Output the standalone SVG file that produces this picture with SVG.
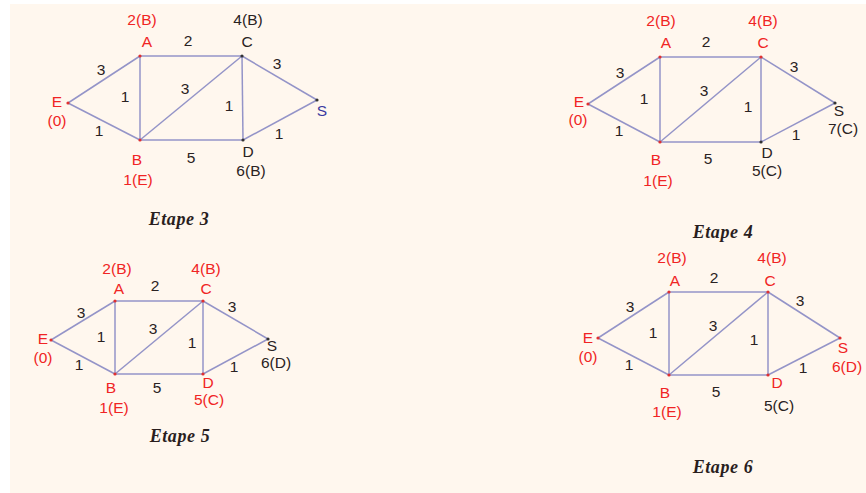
<svg xmlns="http://www.w3.org/2000/svg" width="866" height="493" viewBox="0 0 866 493">
<style>
text{font-family:"Liberation Sans",Arial,sans-serif;font-size:15.5px;text-anchor:middle}
.r{fill:#f02424}.k{fill:#2a2222}.b{fill:#3a3aa0}
.w{fill:#2a2222}
.e line{stroke:#9494c8;stroke-width:1.5}
.dr{fill:#e03030}.dk{fill:#333}
.t{font-family:"Liberation Serif","Times New Roman",serif;font-style:italic;font-weight:bold;font-size:18px;fill:#2a1e1e;letter-spacing:0.6px}
</style>
<rect x="0" y="0" width="866" height="493" fill="#ffffff"/>
<rect x="10" y="4" width="856" height="489" fill="#fff7ee"/>

<!-- Panel 1: Etape 3 -->
<g id="p1">
<g class="e" id="p1-edges">
<line x1="68" y1="103" x2="140" y2="56"/>
<line x1="68" y1="103" x2="140" y2="140"/>
<line x1="140" y1="56" x2="242" y2="56"/>
<line x1="140" y1="56" x2="140" y2="140"/>
<line x1="140" y1="140" x2="242" y2="56"/>
<line x1="242" y1="56" x2="243" y2="140"/>
<line x1="140" y1="140" x2="243" y2="140"/>
<line x1="242" y1="56" x2="317" y2="100"/>
<line x1="243" y1="140" x2="317" y2="100"/>
</g>
<g id="p1-wts" class="w">
<text x="188" y="46">2</text><text x="101" y="75">3</text><text x="125" y="102">1</text>
<text x="185" y="94">3</text><text x="229" y="111">1</text><text x="277" y="69">3</text>
<text x="99" y="136">1</text><text x="191" y="163">5</text><text x="279" y="139">1</text>
</g>
<g id="p1-E"><circle class="dr" cx="68" cy="103" r="1.6"/><text class="r" x="57" y="107">E</text><text class="r" x="57" y="126">(0)</text></g>
<g id="p1-A"><circle class="dr" cx="140" cy="56" r="1.6"/><text class="r" x="147" y="47">A</text><text class="r" x="142" y="25">2(B)</text></g>
<g id="p1-C"><circle class="dk" cx="242" cy="56" r="1.6"/><text class="k" x="247" y="47">C</text><text class="k" x="248" y="25">4(B)</text></g>
<g id="p1-B"><circle class="dr" cx="140" cy="140" r="1.6"/><text class="r" x="137" y="165">B</text><text class="r" x="138" y="185">1(E)</text></g>
<g id="p1-D"><circle class="dk" cx="243" cy="140" r="1.6"/><text class="k" x="248" y="157">D</text><text class="k" x="251" y="176">6(B)</text></g>
<g id="p1-S"><circle class="dk" cx="317" cy="100" r="1.6"/><text class="b" x="322" y="116">S</text></g>
<text class="t" x="179" y="225">Etape 3</text>
</g>

<!-- Panel 2: Etape 4 -->
<g id="p2">
<g class="e" id="p2-edges">
<line x1="588" y1="104" x2="660" y2="57"/>
<line x1="588" y1="104" x2="660" y2="142"/>
<line x1="660" y1="57" x2="761" y2="57"/>
<line x1="660" y1="57" x2="660" y2="142"/>
<line x1="660" y1="142" x2="761" y2="57"/>
<line x1="761" y1="57" x2="761" y2="142"/>
<line x1="660" y1="142" x2="761" y2="142"/>
<line x1="761" y1="57" x2="835" y2="103"/>
<line x1="761" y1="142" x2="835" y2="103"/>
</g>
<g id="p2-wts" class="w">
<text x="706" y="47">2</text><text x="620" y="78">3</text><text x="644" y="104">1</text>
<text x="704" y="96">3</text><text x="748" y="112">1</text><text x="794" y="72">3</text>
<text x="619" y="136">1</text><text x="708" y="164">5</text><text x="796" y="140">1</text>
</g>
<g id="p2-E"><circle class="dr" cx="588" cy="104" r="1.6"/><text class="r" x="579" y="107">E</text><text class="r" x="578" y="125">(0)</text></g>
<g id="p2-A"><circle class="dr" cx="660" cy="57" r="1.6"/><text class="r" x="666" y="48">A</text><text class="r" x="661" y="26">2(B)</text></g>
<g id="p2-C"><circle class="dr" cx="761" cy="57" r="1.6"/><text class="r" x="763" y="48">C</text><text class="r" x="763" y="26">4(B)</text></g>
<g id="p2-B"><circle class="dr" cx="660" cy="142" r="1.6"/><text class="r" x="656" y="165">B</text><text class="r" x="658" y="186">1(E)</text></g>
<g id="p2-D"><circle class="dk" cx="761" cy="142" r="1.6"/><text class="k" x="767" y="158">D</text><text class="k" x="767" y="176">5(C)</text></g>
<g id="p2-S"><circle class="dk" cx="835" cy="103" r="1.6"/><text class="k" x="839" y="116">S</text><text class="k" x="843" y="134">7(C)</text></g>
<text class="t" x="723" y="238">Etape 4</text>
</g>

<!-- Panel 3: Etape 5 -->
<g id="p3">
<g class="e" id="p3-edges">
<line x1="51" y1="340" x2="115" y2="301"/>
<line x1="51" y1="340" x2="115" y2="374"/>
<line x1="115" y1="301" x2="203" y2="301"/>
<line x1="115" y1="301" x2="115" y2="374"/>
<line x1="115" y1="374" x2="203" y2="301"/>
<line x1="203" y1="301" x2="203" y2="374"/>
<line x1="115" y1="374" x2="203" y2="374"/>
<line x1="203" y1="301" x2="268" y2="339"/>
<line x1="203" y1="374" x2="268" y2="339"/>
</g>
<g id="p3-wts" class="w">
<text x="155" y="291">2</text><text x="81" y="318">3</text><text x="101" y="342">1</text>
<text x="153" y="334">3</text><text x="192" y="348">1</text><text x="232" y="312">3</text>
<text x="79" y="370">1</text><text x="157" y="393">5</text><text x="234" y="372">1</text>
</g>
<g id="p3-E"><circle class="dr" cx="51" cy="340" r="1.6"/><text class="r" x="43" y="344">E</text><text class="r" x="43" y="363">(0)</text></g>
<g id="p3-A"><circle class="dr" cx="115" cy="301" r="1.6"/><text class="r" x="119" y="294">A</text><text class="r" x="117" y="274">2(B)</text></g>
<g id="p3-C"><circle class="dr" cx="203" cy="301" r="1.6"/><text class="r" x="206" y="294">C</text><text class="r" x="206" y="274">4(B)</text></g>
<g id="p3-B"><circle class="dr" cx="115" cy="374" r="1.6"/><text class="r" x="111" y="393">B</text><text class="r" x="114" y="413">1(E)</text></g>
<g id="p3-D"><circle class="dr" cx="203" cy="374" r="1.6"/><text class="r" x="208" y="388">D</text><text class="r" x="209" y="405">5(C)</text></g>
<g id="p3-S"><circle class="dk" cx="268" cy="339" r="1.6"/><text class="k" x="272" y="351">S</text><text class="k" x="276" y="368">6(D)</text></g>
<text class="t" x="180" y="442">Etape 5</text>
</g>

<!-- Panel 4: Etape 6 -->
<g id="p4">
<g class="e" id="p4-edges">
<line x1="598" y1="338" x2="669" y2="292"/>
<line x1="598" y1="338" x2="669" y2="375"/>
<line x1="669" y1="292" x2="768" y2="292"/>
<line x1="669" y1="292" x2="669" y2="375"/>
<line x1="669" y1="375" x2="768" y2="292"/>
<line x1="768" y1="292" x2="768" y2="375"/>
<line x1="669" y1="375" x2="768" y2="375"/>
<line x1="768" y1="292" x2="840" y2="338"/>
<line x1="768" y1="375" x2="840" y2="338"/>
</g>
<g id="p4-wts" class="w">
<text x="714" y="283">2</text><text x="630" y="312">3</text><text x="653" y="338">1</text>
<text x="713" y="331">3</text><text x="754" y="345">1</text><text x="800" y="306">3</text>
<text x="629" y="370">1</text><text x="716" y="397">5</text><text x="803" y="373">1</text>
</g>
<g id="p4-E"><circle class="dr" cx="598" cy="338" r="1.6"/><text class="r" x="588" y="343">E</text><text class="r" x="588" y="362">(0)</text></g>
<g id="p4-A"><circle class="dr" cx="669" cy="292" r="1.6"/><text class="r" x="675" y="286">A</text><text class="r" x="672" y="263">2(B)</text></g>
<g id="p4-C"><circle class="dr" cx="768" cy="292" r="1.6"/><text class="r" x="770" y="286">C</text><text class="r" x="772" y="263">4(B)</text></g>
<g id="p4-B"><circle class="dr" cx="669" cy="375" r="1.6"/><text class="r" x="665" y="398">B</text><text class="r" x="667" y="417">1(E)</text></g>
<g id="p4-D"><circle class="dr" cx="768" cy="375" r="1.6"/><text class="r" x="777" y="388">D</text><text class="k" x="779" y="411">5(C)</text></g>
<g id="p4-S"><circle class="dr" cx="840" cy="338" r="1.6"/><text class="r" x="843" y="353">S</text><text class="r" x="847" y="372">6(D)</text></g>
<text class="t" x="723" y="473">Etape 6</text>
</g>
</svg>
